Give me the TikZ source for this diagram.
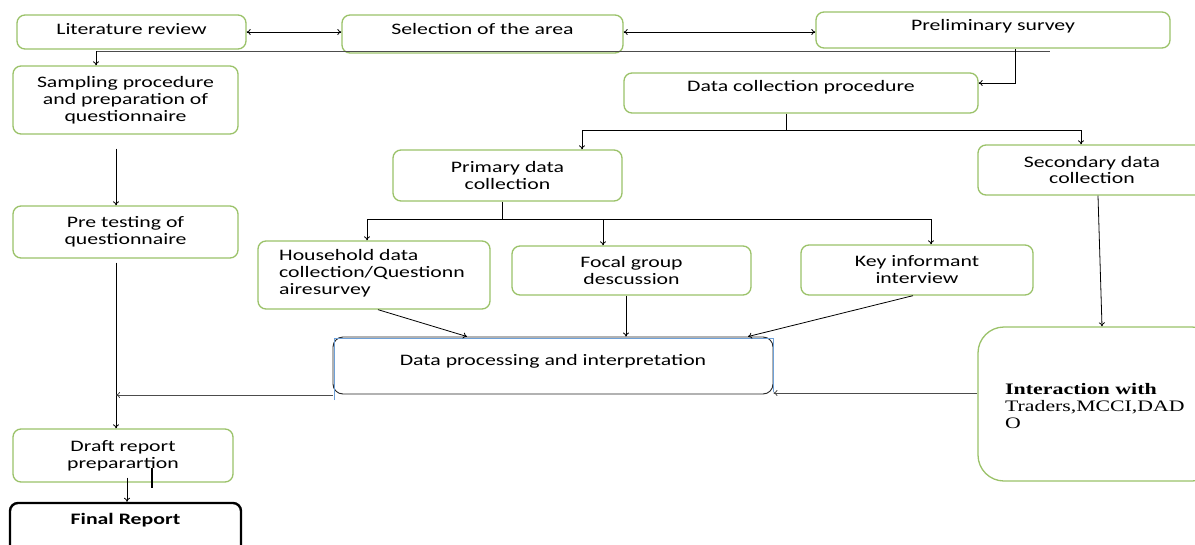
\documentclass[tikz,border=0pt]{standalone}
\usepackage{fontspec}
\setmainfont{Carlito}[FakeStretch=1.36]
\newfontfamily\serifb{Liberation Serif}[FakeStretch=1.37]
\newfontfamily\serifc{Liberation Serif}[FakeStretch=1.36]
\usetikzlibrary{arrows.meta}
\definecolor{gbox}{RGB}{155,194,105}
\definecolor{bluel}{RGB}{110,160,215}
\begin{document}
\begin{tikzpicture}[x=1pt,y=-1pt,
  box/.style={draw=gbox, line width=1.3pt, rounded corners=8pt, align=center, inner sep=0pt},
  txt/.style={align=center, inner sep=0pt},
  every node/.style={font=\fontsize{16}{17}\selectfont},
  arr/.style={-{To[length=4pt,width=6pt]}, line width=0.8pt},
  ln/.style={line width=0.8pt}]
\useasboundingbox (0,0) rectangle (1195,544);
\clip (0,0) rectangle (1195,544);
\fill[white] (0,0) rectangle (1195,544);
% boxes
\node[box, minimum width=229pt, minimum height=34pt] (lit) at (131.5,32) {};
\node[txt] (litT) at (131.5,29) {Literature review};
\node[box, minimum width=281pt, minimum height=38pt] (sel) at (482.5,34) {};
\node[txt] (selT) at (482.5,29) {Selection of the area};
\node[box, minimum width=354pt, minimum height=36pt] (pre) at (993,30) {};
\node[txt] (preT) at (993,26) {Preliminary survey};
\node[box, minimum width=225pt, minimum height=68pt] (samp) at (125.5,100) {Sampling procedure\\and preparation of\\questionnaire};
\node[box, minimum width=354pt, minimum height=40pt] (dcp) at (801,93) {};
\node[txt] (dcpT) at (801,87) {Data collection procedure};
\node[box, minimum width=229pt, minimum height=51pt] (prim) at (507.5,175.5) {Primary data\\collection};
\node[box, minimum width=228pt, minimum height=50pt] (sec) at (1092,170) {Secondary data\\collection};
\node[box, minimum width=225pt, minimum height=52pt] (pret) at (125.5,232) {Pre testing of\\questionnaire};
\node[box, minimum width=232pt, minimum height=68pt] (house) at (374,275) {};
\node[txt, align=left, anchor=west] (houseT) at (279,273) {Household data\\collection/Questionn\\airesurvey};
\node[box, minimum width=239pt, minimum height=49pt] (focal) at (631.5,270.5) {Focal group\\descussion};
\node[box, minimum width=232pt, minimum height=50pt] (key) at (917,270) {Key informant\\interview};
% data processing
\node[draw=black!85, line width=0.9pt, rounded corners=10pt, minimum width=440pt, minimum height=57pt, inner sep=0pt] (dp) at (553,365.5) {};
\node[txt] (dpT) at (553,361) {Data processing and interpretation};
\draw[bluel, line width=0.7pt] (334,400) -- (334,338) -- (773,338) -- (773,392);
\node[box, rounded corners=26pt, minimum width=240pt, minimum height=154pt] (inter) at (1098,404) {};
\node[txt, align=left, anchor=north west] (interT) at (1005,383) {{\serifb\bfseries Interaction with}\\{\serifc Traders,MCCI,DAD}\\{\serifc O}};
\node[box, minimum width=220pt, minimum height=53pt] (draft) at (123,455.5) {Draft report\\preparartion};
\node[draw=black, line width=2.4pt, rounded corners=8pt, minimum width=231pt, minimum height=70pt, inner sep=0pt] (final) at (125.5,538) {};
\node[txt] (finalT) at (125.5,520) {\bfseries Final Report};
% coordinates
\coordinate (c1) at (96,51);
\coordinate (c2) at (1050,51);
\coordinate (c3) at (1015,83);
\coordinate (d1) at (786,130);
\coordinate (d2) at (582,130);
\coordinate (d3) at (1081,130);
\coordinate (p1) at (502,219);
\coordinate (p2) at (367,219);
\coordinate (p3) at (603,219);
\coordinate (p4) at (931,219);
\coordinate (j1) at (116,395);
% connectors
\draw[{To[length=4pt,width=6pt]}-{To[length=4pt,width=6pt]}, line width=0.8pt] (lit.east) -- (lit.east -| sel.west);
\draw[{To[length=4pt,width=6pt]}-{To[length=4pt,width=6pt]}, line width=0.8pt] ([yshift=2pt]sel.east) -- ([yshift=2pt]sel.east -| pre.west);
\draw[ln, black!70] (c1) -- (c2);
\draw[arr] (c1) -- (samp.north -| c1);
\draw[arr] (pre.south -| c3) -- (c3) -- (c3 -| dcp.east);
\draw[ln] (dcp.south -| d1) -- (d1);
\draw[ln] (d2) -- (d3);
\draw[arr] (d2) -- (prim.north -| d2);
\draw[arr] (d3) -- (sec.north -| d3);
\draw[ln] (prim.south -| p1) -- (p1);
\draw[ln] (p2) -- (p4);
\draw[arr] (p2) -- (house.north -| p2);
\draw[arr] (p3) -- (focal.north -| p3);
\draw[arr] (p4) -- (key.north -| p4);
\draw[arr] ([yshift=-14pt]samp.south -| 116,0) -- (pret.north -| 116,0);
\draw[arr] ([yshift=-4pt]pret.south -| 116,0) -- (draft.north -| 116,0);
\draw[arr] (house.south -| 378,0) -- (dp.north -| 467,0);
\draw[arr] (focal.south -| 626,0) -- (dp.north -| 626,0);
\draw[arr] (key.south -| 913,0) -- (dp.north -| 748,0);
\draw[arr] (sec.south -| 1098,0) -- (inter.north -| 1102,0);
\draw[arr, black!70] (inter.west |- 0,393) -- (dp.east |- 0,393);
\draw[arr, black!70] (dp.west |- j1) -- (j1);
\draw[arr] ([yshift=5pt]draft.south -| 127,0) -- (final.north -| 127,0);
\draw[line width=2.6pt] (152,468) -- (152,488);
\end{tikzpicture}
\end{document}
